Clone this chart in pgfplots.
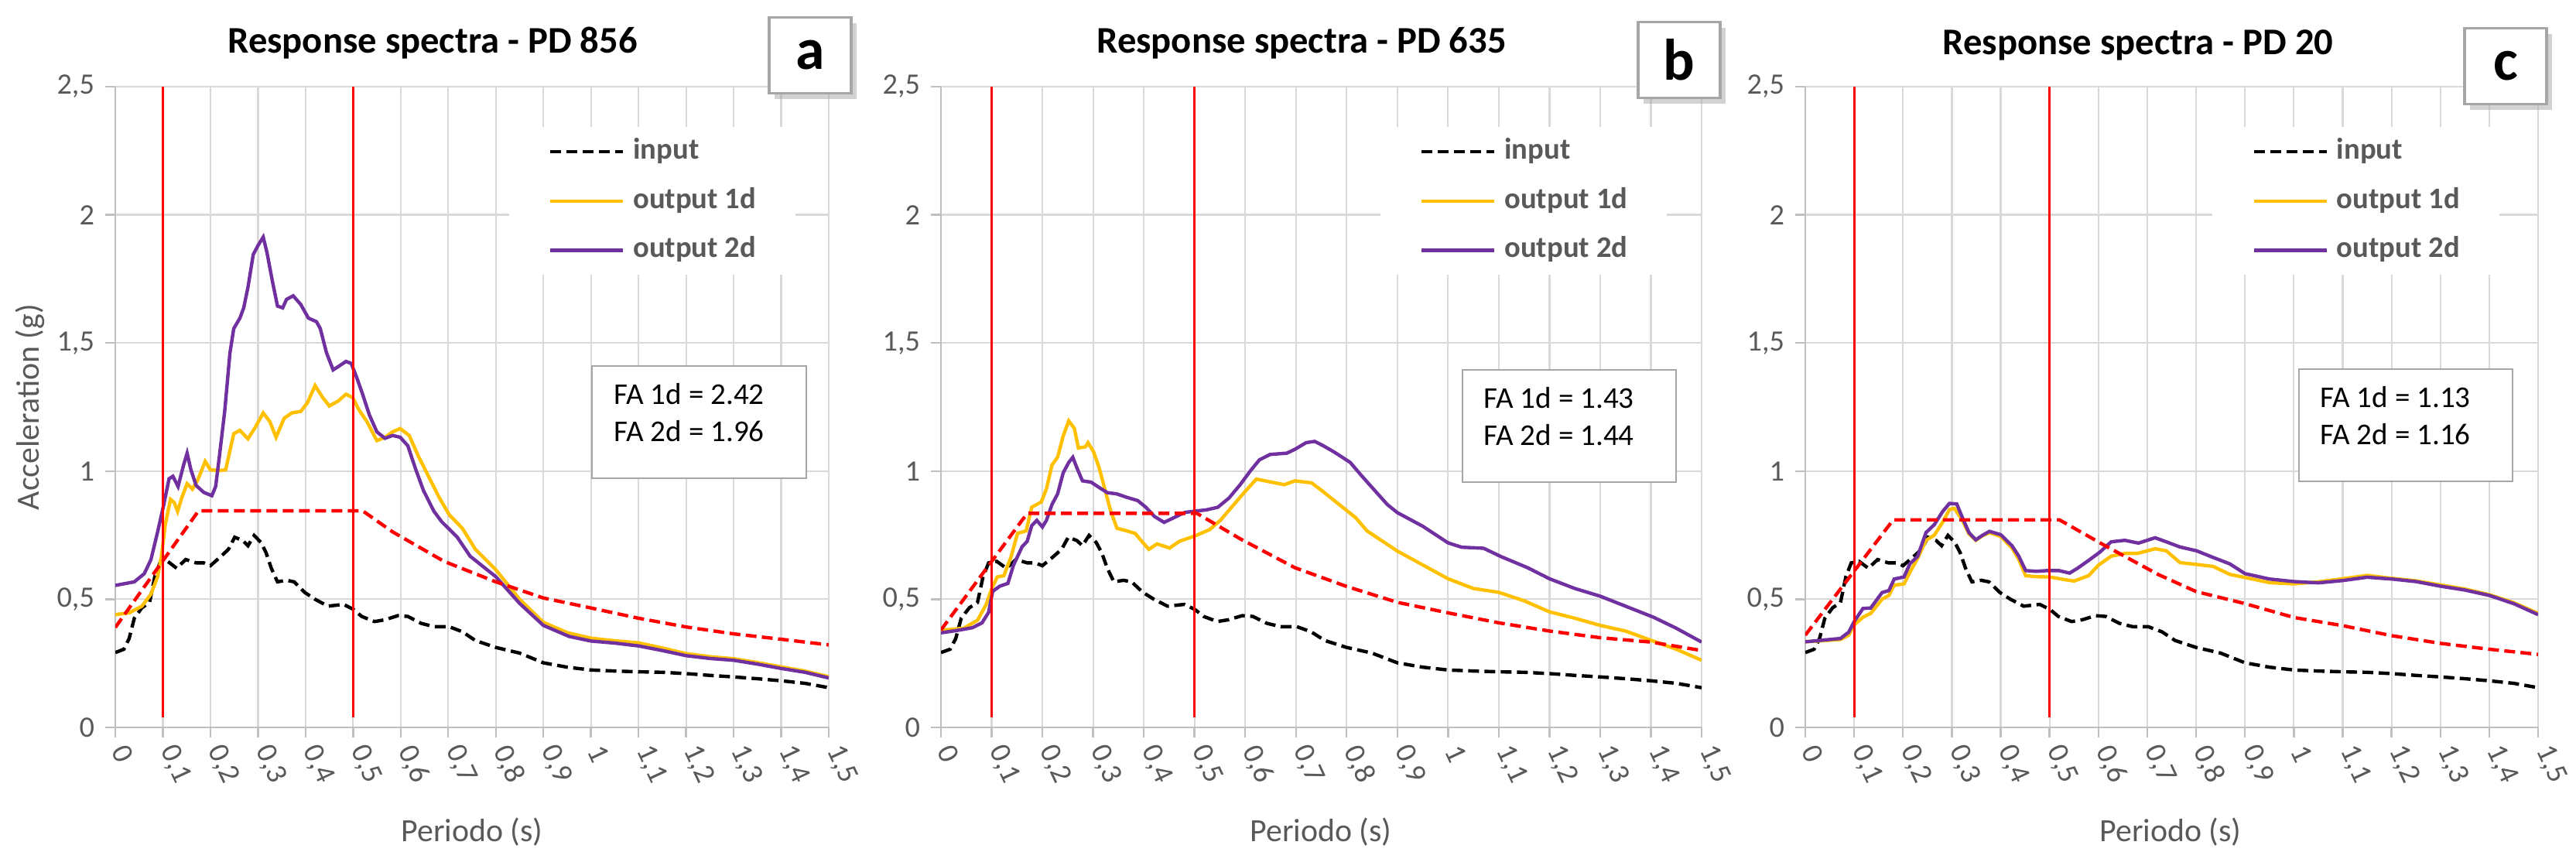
\documentclass[border=0pt]{standalone}
\usepackage{fontspec}
\setmainfont{Carlito}
\usepackage{pgfplots}
\usepackage{pgfplotstable}
\pgfplotsset{compat=1.18}
\usetikzlibrary{shadows}
\definecolor{cyel}{HTML}{FFC000}
\definecolor{cpur}{HTML}{7030A0}
\definecolor{cgrid}{HTML}{D9D9D9}
\definecolor{ctxt}{HTML}{595959}
\definecolor{caxis}{HTML}{BFBFBF}
\definecolor{cbox}{HTML}{A6A6A6}

\pgfplotstableread{
T g
0 0.292
0.018 0.305
0.029 0.346
0.04 0.426
0.056 0.467
0.072 0.487
0.083 0.588
0.094 0.642
0.11 0.648
0.129 0.621
0.148 0.655
0.17 0.642
0.186 0.642
0.2 0.631
0.219 0.662
0.238 0.695
0.251 0.742
0.268 0.729
0.279 0.709
0.292 0.749
0.306 0.722
0.317 0.682
0.328 0.621
0.341 0.568
0.36 0.574
0.376 0.568
0.398 0.527
0.42 0.50
0.447 0.473
0.48 0.48
0.501 0.46
0.518 0.433
0.545 0.413
0.567 0.42
0.594 0.436
0.615 0.433
0.643 0.406
0.67 0.393
0.702 0.393
0.73 0.373
0.757 0.339
0.80 0.312
0.85 0.29
0.9 0.252
0.95 0.235
1.0 0.224
1.05 0.22
1.1 0.217
1.15 0.215
1.2 0.21
1.25 0.203
1.3 0.197
1.35 0.19
1.4 0.182
1.45 0.172
1.5 0.155
}\tinput

\pgfplotstableread{
T g
0 0.554
0.04 0.568
0.061 0.60
0.075 0.655
0.089 0.763
0.102 0.87
0.113 0.97
0.121 0.98
0.132 0.94
0.143 1.02
0.151 1.07
0.159 1.005
0.170 0.944
0.186 0.917
0.203 0.904
0.211 0.94
0.219 1.06
0.23 1.233
0.241 1.46
0.249 1.556
0.262 1.597
0.27 1.637
0.279 1.718
0.29 1.845
0.30 1.88
0.311 1.913
0.319 1.852
0.33 1.744
0.341 1.644
0.352 1.637
0.36 1.67
0.374 1.684
0.39 1.65
0.406 1.597
0.423 1.583
0.431 1.556
0.444 1.462
0.458 1.395
0.469 1.408
0.485 1.428
0.496 1.42
0.507 1.368
0.52 1.30
0.534 1.22
0.55 1.153
0.567 1.128
0.583 1.139
0.599 1.132
0.615 1.099
0.632 1.005
0.648 0.924
0.67 0.843
0.686 0.803
0.719 0.742
0.746 0.668
0.773 0.628
0.80 0.588
0.85 0.484
0.9 0.398
0.954 0.355
1.0 0.337
1.05 0.329
1.1 0.318
1.15 0.30
1.2 0.28
1.25 0.269
1.3 0.262
1.35 0.247
1.4 0.23
1.45 0.215
1.5 0.193
}\taII

\pgfplotstableread{
T g
0 0.44
0.029 0.447
0.056 0.473
0.075 0.52
0.089 0.588
0.097 0.668
0.105 0.79
0.116 0.89
0.124 0.877
0.131 0.843
0.14 0.897
0.151 0.951
0.162 0.93
0.173 0.964
0.189 1.038
0.2 1.005
0.219 1.002
0.232 1.005
0.249 1.146
0.262 1.159
0.279 1.126
0.295 1.173
0.311 1.227
0.325 1.193
0.338 1.132
0.355 1.206
0.371 1.227
0.39 1.233
0.404 1.267
0.42 1.334
0.436 1.287
0.45 1.254
0.469 1.274
0.485 1.30
0.499 1.287
0.512 1.24
0.529 1.193
0.55 1.119
0.567 1.132
0.583 1.153
0.599 1.166
0.618 1.139
0.637 1.059
0.659 0.978
0.681 0.897
0.702 0.83
0.73 0.776
0.757 0.695
0.80 0.615
0.85 0.50
0.9 0.41
0.95 0.37
1.0 0.348
1.05 0.338
1.1 0.33
1.15 0.31
1.2 0.288
1.25 0.276
1.3 0.268
1.35 0.253
1.4 0.236
1.45 0.22
1.5 0.198
}\taI

\pgfplotstableread{
T g
0 0.39
0.175 0.845
0.52 0.845
0.583 0.763
0.691 0.648
0.8 0.568
0.9 0.505
1.0 0.466
1.1 0.426
1.2 0.392
1.3 0.365
1.4 0.344
1.5 0.322
}\taD

\pgfplotstableread{
T g
0 0.369
0.034 0.379
0.062 0.389
0.081 0.408
0.094 0.449
0.102 0.531
0.116 0.551
0.132 0.562
0.143 0.633
0.16 0.705
0.17 0.726
0.179 0.787
0.189 0.808
0.2 0.782
0.208 0.808
0.219 0.87
0.23 0.911
0.241 0.993
0.252 1.034
0.26 1.054
0.268 1.013
0.279 0.962
0.296 0.957
0.312 0.936
0.328 0.916
0.347 0.911
0.366 0.898
0.388 0.885
0.404 0.859
0.421 0.823
0.44 0.80
0.459 0.818
0.481 0.839
0.502 0.844
0.524 0.849
0.546 0.859
0.568 0.895
0.59 0.947
0.611 1.003
0.628 1.044
0.649 1.065
0.682 1.07
0.698 1.085
0.72 1.111
0.737 1.116
0.753 1.10
0.775 1.075
0.807 1.034
0.829 0.983
0.88 0.87
0.9 0.838
0.95 0.785
1.0 0.72
1.027 0.703
1.07 0.699
1.105 0.666
1.157 0.623
1.2 0.58
1.25 0.542
1.3 0.512
1.35 0.473
1.405 0.43
1.45 0.387
1.5 0.333
}\tbII

\pgfplotstableread{
T g
0 0.379
0.045 0.387
0.072 0.418
0.089 0.479
0.1 0.541
0.111 0.587
0.124 0.592
0.138 0.664
0.151 0.757
0.168 0.767
0.179 0.859
0.198 0.88
0.208 0.931
0.219 1.024
0.23 1.054
0.241 1.137
0.252 1.196
0.263 1.167
0.271 1.09
0.285 1.095
0.29 1.111
0.301 1.075
0.312 1.013
0.323 0.931
0.334 0.849
0.347 0.777
0.366 0.767
0.383 0.757
0.396 0.726
0.41 0.695
0.426 0.716
0.451 0.70
0.47 0.726
0.502 0.748
0.53 0.772
0.551 0.808
0.573 0.859
0.60 0.921
0.622 0.969
0.644 0.96
0.677 0.947
0.698 0.962
0.731 0.954
0.753 0.921
0.785 0.87
0.818 0.818
0.84 0.767
0.9 0.688
0.95 0.634
1.0 0.58
1.05 0.542
1.1 0.527
1.15 0.494
1.2 0.451
1.25 0.426
1.3 0.398
1.35 0.376
1.4 0.34
1.45 0.305
1.5 0.262
}\tbI

\pgfplotstableread{
T g
0 0.38
0.17 0.835
0.505 0.835
0.59 0.736
0.698 0.623
0.8 0.55
0.9 0.488
1.0 0.447
1.1 0.408
1.2 0.376
1.3 0.35
1.4 0.333
1.5 0.30
}\tbD

\pgfplotstableread{
T g
0 0.334
0.033 0.34
0.072 0.347
0.089 0.372
0.1 0.413
0.118 0.464
0.134 0.466
0.157 0.526
0.171 0.534
0.182 0.579
0.202 0.587
0.214 0.638
0.23 0.668
0.247 0.76
0.264 0.791
0.281 0.842
0.295 0.874
0.31 0.872
0.321 0.821
0.335 0.76
0.349 0.732
0.363 0.75
0.377 0.765
0.40 0.752
0.423 0.709
0.437 0.668
0.451 0.612
0.473 0.609
0.496 0.612
0.519 0.612
0.541 0.602
0.558 0.622
0.581 0.653
0.603 0.684
0.626 0.724
0.654 0.73
0.682 0.719
0.716 0.74
0.739 0.724
0.767 0.704
0.801 0.689
0.835 0.663
0.869 0.638
0.9 0.60
0.95 0.579
1.0 0.569
1.05 0.564
1.1 0.573
1.15 0.586
1.2 0.579
1.25 0.569
1.3 0.551
1.35 0.536
1.4 0.515
1.45 0.483
1.5 0.44
}\tcII

\pgfplotstableread{
T g
0 0.334
0.033 0.338
0.072 0.343
0.089 0.36
0.1 0.40
0.118 0.43
0.134 0.445
0.157 0.50
0.171 0.515
0.182 0.555
0.202 0.56
0.214 0.605
0.23 0.66
0.247 0.73
0.264 0.75
0.281 0.80
0.295 0.85
0.305 0.855
0.321 0.81
0.335 0.755
0.349 0.73
0.363 0.748
0.377 0.76
0.40 0.745
0.423 0.70
0.437 0.655
0.451 0.592
0.473 0.588
0.5 0.587
0.53 0.577
0.55 0.571
0.58 0.592
0.6 0.633
0.626 0.668
0.654 0.679
0.68 0.679
0.716 0.697
0.739 0.689
0.767 0.643
0.8 0.636
0.835 0.628
0.869 0.597
0.9 0.585
0.95 0.565
1.0 0.56
1.05 0.568
1.1 0.58
1.15 0.593
1.2 0.582
1.25 0.572
1.3 0.556
1.35 0.54
1.4 0.518
1.45 0.487
1.5 0.445
}\tcI

\pgfplotstableread{
T g
0 0.36
0.18 0.81
0.52 0.81
0.609 0.714
0.722 0.597
0.8 0.53
0.9 0.483
1.0 0.429
1.1 0.397
1.2 0.358
1.3 0.328
1.4 0.305
1.5 0.285
}\tcD

\pgfplotstableread{
T g
0.1 0.04
0.1 2.5
}\tvA
\pgfplotstableread{
T g
0.5 0.04
0.5 2.5
}\tvB

\pgfplotsset{
 rsaxis/.style={
  scale only axis, height=207bp,
  xmin=0, xmax=1.5, ymin=0, ymax=2.5,
  axis lines=left, axis line style={-, draw=caxis, line width=0.7bp},
  xtick={0,0.1,0.2,0.3,0.4,0.5,0.6,0.7,0.8,0.9,1,1.1,1.2,1.3,1.4,1.5},
  xticklabels={0,{0,1},{0,2},{0,3},{0,4},{0,5},{0,6},{0,7},{0,8},{0,9},1,{1,1},{1,2},{1,3},{1,4},{1,5}},
  ytick={0,0.5,1,1.5,2,2.5},
  yticklabels={0,{0,5},1,{1,5},2,{2,5}},
  grid=major, major grid style={draw=cgrid, line width=0.55bp},
  tick align=outside, major tick length=3.25bp,
  tick style={draw=caxis, line width=0.6bp},
  ticklabel style={font=\fontsize{9.6}{11}\selectfont, text=ctxt},
  xticklabel style={rotate=-65, anchor=west},
  yticklabel style={anchor=east},
  legend cell align=left,
  legend style={draw=none, fill=white, font=\bfseries\fontsize{9.7}{11}\selectfont,
    text=ctxt, inner xsep=12.75bp, inner ysep=3.4bp, row sep=6.7bp, anchor=north west,
    nodes={inner sep=0bp, text height=7bp, text depth=2.2bp},
    /tikz/every odd column/.append style={column sep=2.75bp}},
  legend image code/.code={\draw[##1] (0bp,0bp) -- (23.5bp,0bp);},
 },
 inp/.style={black, line width=1.1bp, dash pattern=on 3.5bp off 1.75bp},
 oI/.style={cyel, line width=1.1bp},
 oII/.style={cpur, line width=1.1bp},
 des/.style={red, line width=1.1bp, dash pattern=on 3.5bp off 1.75bp},
 vl/.style={red, line width=0.7bp},
}

\begin{document}
\begin{tikzpicture}
\path[use as bounding box, fill=white] (0,0) rectangle (832.25bp,275.25bp);

% ---------- panel a
\begin{axis}[rsaxis, at={(37.25bp,40.25bp)}, anchor=south west, width=230.5bp,
  legend style={at={(0.551,0.938)}}]
\addplot[inp] table[x=T,y=g]{\tinput}; \addlegendentry{input}
\addplot[oI] table[x=T,y=g]{\taI}; \addlegendentry{output 1d}
\addplot[oII] table[x=T,y=g]{\taII}; \addlegendentry{output 2d}
\addplot[des, forget plot] table[x=T,y=g]{\taD};
\addplot[vl, forget plot] table[x=T,y=g]{\tvA};
\addplot[vl, forget plot] table[x=T,y=g]{\tvB};
\end{axis}

% ---------- panel b
\begin{axis}[rsaxis, at={(304bp,40.25bp)}, anchor=south west, width=245.75bp,
  legend style={at={(0.577,0.938)}}]
\addplot[inp] table[x=T,y=g]{\tinput}; \addlegendentry{input}
\addplot[oI] table[x=T,y=g]{\tbI}; \addlegendentry{output 1d}
\addplot[oII] table[x=T,y=g]{\tbII}; \addlegendentry{output 2d}
\addplot[des, forget plot] table[x=T,y=g]{\tbD};
\addplot[vl, forget plot] table[x=T,y=g]{\tvA};
\addplot[vl, forget plot] table[x=T,y=g]{\tvB};
\end{axis}

% ---------- panel c
\begin{axis}[rsaxis, at={(583.25bp,40.25bp)}, anchor=south west, width=236.75bp,
  legend style={at={(0.555,0.938)}}]
\addplot[inp] table[x=T,y=g]{\tinput}; \addlegendentry{input}
\addplot[oI] table[x=T,y=g]{\tcI}; \addlegendentry{output 1d}
\addplot[oII] table[x=T,y=g]{\tcII}; \addlegendentry{output 2d}
\addplot[des, forget plot] table[x=T,y=g]{\tcD};
\addplot[vl, forget plot] table[x=T,y=g]{\tvA};
\addplot[vl, forget plot] table[x=T,y=g]{\tvB};
\end{axis}

% titles
\tikzset{ttl/.style={anchor=base, font=\bfseries\fontsize{12.2}{14}\selectfont, inner sep=0}}
\node[ttl] at (139.75bp,258bp) {Response spectra - PD 856};
\node[ttl] at (420.5bp,258bp) {Response spectra - PD 635};
\node[ttl] at (690.75bp,257.5bp) {Response spectra - PD 20};

% panel letters
\tikzset{lbl/.style={draw=cbox, line width=0.8bp, fill=white, minimum width=26.5bp, minimum height=24.5bp,
  inner sep=0, drop shadow={shadow xshift=1.8bp, shadow yshift=-1.8bp, fill=black!35},
  font=\bfseries\fontsize{19}{19}\selectfont}}
\node[lbl] at (261.75bp,257.4bp) {a};
\node[lbl] at (542.5bp,255.9bp) {b};
\node[lbl] at (809.5bp,253.9bp) {c};

% axis labels
\tikzset{alab/.style={font=\fontsize{10.5}{12}\selectfont, text=ctxt, inner sep=0}}
\node[alab, rotate=90] at (9.75bp,143.75bp) {Acceleration (g)};
\node[alab, anchor=base] at (152.5bp,3.5bp) {Periodo (s)};
\node[alab, anchor=base] at (426.75bp,3.5bp) {Periodo (s)};
\node[alab, anchor=base] at (701.25bp,3.5bp) {Periodo (s)};

% FA boxes
\tikzset{fat/.style={anchor=base west, inner sep=0, font=\fontsize{9.8}{11}\selectfont}}
\draw[draw=cbox, line width=0.7bp, fill=white] (191.25bp,120.75bp) rectangle (260.5bp,157bp);
\node[fat] at (198.25bp,144.5bp) {FA 1d = 2.42};
\node[fat] at (198.25bp,132.5bp) {FA 2d = 1.96};
\draw[draw=cbox, line width=0.7bp, fill=white] (472.5bp,119.5bp) rectangle (541.5bp,155.75bp);
\node[fat] at (479.25bp,143.25bp) {FA 1d = 1.43};
\node[fat] at (479.25bp,131.25bp) {FA 2d = 1.44};
\draw[draw=cbox, line width=0.7bp, fill=white] (742.75bp,119.75bp) rectangle (811.75bp,156bp);
\node[fat] at (749.5bp,143.5bp) {FA 1d = 1.13};
\node[fat] at (749.5bp,131.5bp) {FA 2d = 1.16};
\end{tikzpicture}
\end{document}
